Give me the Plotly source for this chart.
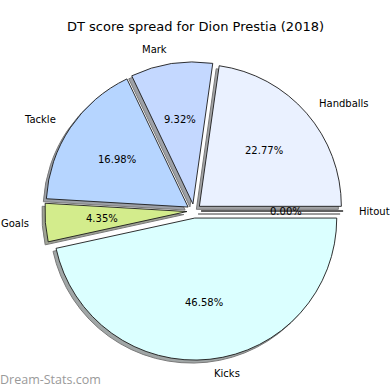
import math
import plotly.graph_objects as go

labels = ["Handballs", "Mark", "Tackle", "Goals", "Kicks", "Hitout"]
values = [22.77, 9.32, 16.98, 4.35, 46.58, 0.0]
colors = ["#eaf1ff", "#c4d8ff", "#b6d5ff", "#d3ec8c", "#dbffff", "#f0f0ff"]
title = "DT score spread for Dion Prestia (2018)"
watermark = "Dream-Stats.com"

W = H = 390
PULL = 0.05
CX, CY = 194, 211          # pie centre, pixels from top-left
R = 142                    # pie radius, pixels
SH = 3                     # shadow offset, pixels
half = R * (1 + PULL)

def dom(cx, cy):
    return dict(x=[(cx - half) / W, (cx + half) / W],
                y=[(H - cy - half) / H, (H - cy + half) / H])

def shade(hexc):
    c = [int(hexc[i:i + 2], 16) / 255 for i in (1, 3, 5)]
    g = [int(round((0.5 + 0.15 * v) * 255)) for v in c]
    return "rgb(%d,%d,%d)" % tuple(g)

total = sum(values)
plot_vals = [v if v > 0 else 1e-7 for v in values]
# plotly (counterclockwise) ends the first slice at `rotation`; start it at 3 o'clock instead
rot = 90 - 360 * values[0] / total

fig = go.Figure()
# shadow
fig.add_trace(go.Pie(
    values=plot_vals, labels=labels, sort=False, direction="counterclockwise",
    rotation=rot, pull=[PULL] * len(values), textinfo="none", hoverinfo="skip",
    marker=dict(colors=[shade(c) for c in colors], line=dict(color="#7a7a7a", width=1)),
    domain=dom(CX - SH, CY + SH), showlegend=False))
# main
fig.add_trace(go.Pie(
    values=plot_vals, labels=labels, sort=False, direction="counterclockwise",
    rotation=rot, pull=[PULL] * len(values), textinfo="none",
    marker=dict(colors=colors, line=dict(color="#1a1a1a", width=0.9)),
    domain=dom(CX, CY), showlegend=False))

ann = []
start = 0.0
for lab, v in zip(labels, values):
    frac = v / total
    mid = (start + frac / 2) * 2 * math.pi
    start += frac
    ex = CX + PULL * R * math.cos(mid)
    ey = CY - PULL * R * math.sin(mid)
    lx = ex + 1.1 * R * math.cos(mid)
    ly = ey - 1.1 * R * math.sin(mid)
    px = ex + 0.6 * R * math.cos(mid)
    py = ey - 0.6 * R * math.sin(mid)
    ann.append(dict(x=lx / W, y=1 - ly / H, xref="paper", yref="paper",
                    text=lab, showarrow=False,
                    xanchor="left" if math.cos(mid) >= 0 else "right", yanchor="middle",
                    font=dict(family="DejaVu Sans", size=10, color="black")))
    ann.append(dict(x=px / W, y=1 - py / H, xref="paper", yref="paper",
                    text="%.2f%%" % (frac * 100), showarrow=False,
                    xanchor="center", yanchor="middle",
                    font=dict(family="DejaVu Sans", size=10, color="black")))

ann.append(dict(x=0, y=1 - 379 / H, xref="paper", yref="paper", text=watermark,
                showarrow=False, xanchor="left", yanchor="middle", xshift=-2,
                font=dict(family="Open Sans", size=12.5, color="#9a9a9a")))
ann.append(dict(x=0.5, y=1 - 27 / H, xref="paper", yref="paper", text=title,
                showarrow=False, xanchor="center", yanchor="middle",
                font=dict(family="DejaVu Sans", size=13, color="black")))

fig.update_layout(width=W, height=H, margin=dict(l=0, r=0, t=0, b=0),
                  paper_bgcolor="white", plot_bgcolor="white", annotations=ann)
fig.write_html("out.html", config={"displayModeBar": False},
               post_script="document.body.style.margin='0';document.body.style.padding='0';")
